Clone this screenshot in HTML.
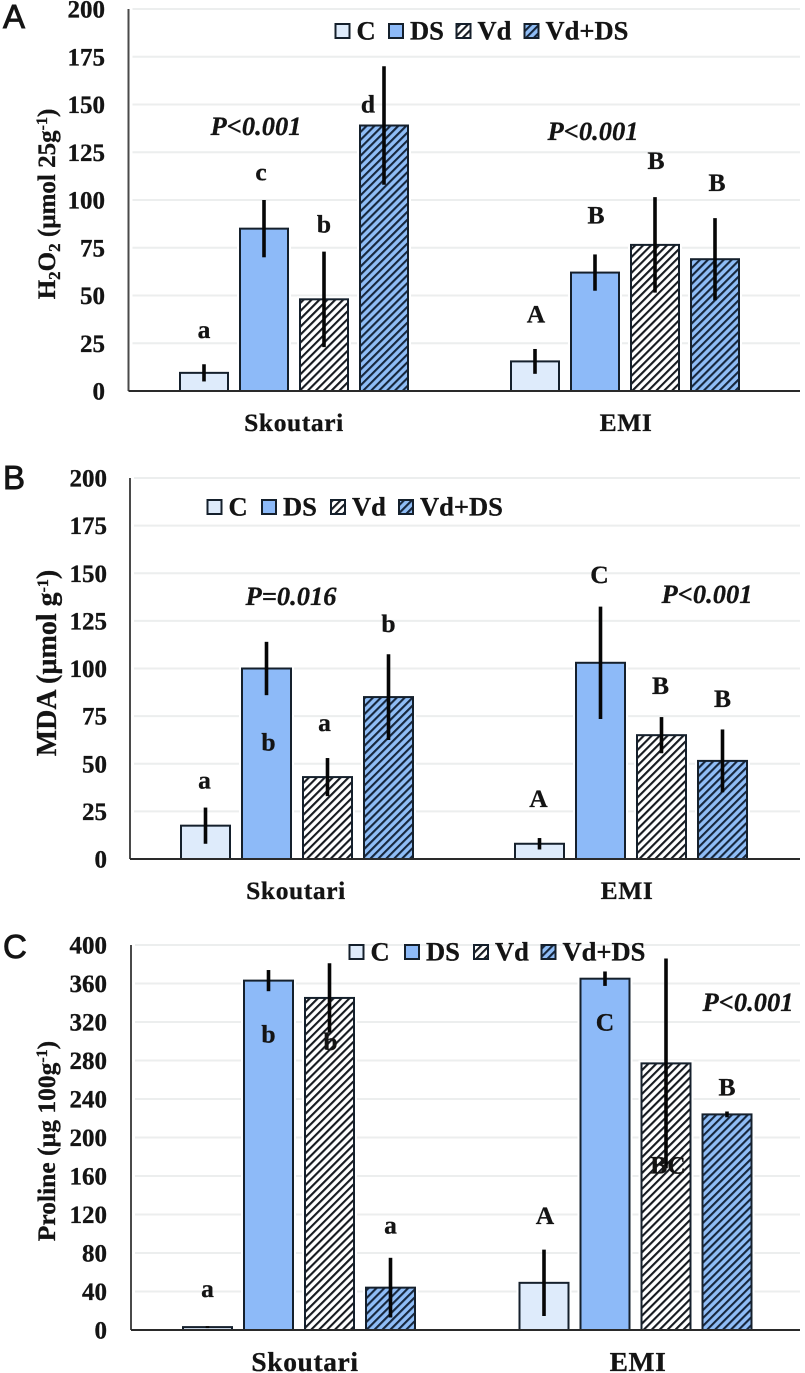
<!DOCTYPE html>
<html lang="en">
<head>
<meta charset="utf-8">
<title>H2O2, MDA and Proline charts</title>
<style>
html,body{margin:0;padding:0;background:#fff;}
svg{display:block;}
text{font-family:"Liberation Serif",serif;font-weight:bold;fill:#141414;stroke:#141414;stroke-width:.3;}
</style>
</head>
<body>
<svg id="figure" xmlns="http://www.w3.org/2000/svg" width="805" height="1373" viewBox="0 0 805 1373">
<defs>
<pattern id="hatch-white" patternUnits="userSpaceOnUse" width="5.6" height="5.6" patternTransform="rotate(45)">
<rect width="5.6" height="5.6" fill="#ffffff"/><rect width="2.1" height="5.6" fill="#161a20"/>
</pattern>
<pattern id="hatch-blue" patternUnits="userSpaceOnUse" width="5.6" height="5.6" patternTransform="rotate(45)">
<rect width="5.6" height="5.6" fill="#8fbdf6"/><rect width="2.1" height="5.6" fill="#16263c"/>
</pattern>
</defs>
</svg>
<script>
// Chart data
const treatments = ['C', 'DS', 'Vd', 'Vd+DS'];
const cultivars = ['Skoutari', 'EMI'];

const ticksA = [0, 25, 50, 75, 100, 125, 150, 175, 200];
const valuesA = [9.5, 85, 48, 139, 15.5, 62, 76.5, 69];
const errorsA = [4.5, 15, 25, 31, 6.5, 9.5, 25, 21.5];
const lettersA = ['a', 'c', 'b', 'd', 'A', 'B', 'B', 'B'];

const ticksB = [0, 25, 50, 75, 100, 125, 150, 175, 200];
const valuesB = [17.5, 100, 43, 85, 8, 103, 65, 51.5];
const errorsB = [9.5, 14, 10, 22.5, 3, 29.5, 9.5, 16.5];
const lettersB = ['a', 'b', 'a', 'b', 'A', 'C', 'B', 'B'];

const ticksC = [0, 40, 80, 120, 160, 200, 240, 280, 320, 360, 400];
const valuesC = [3, 363, 345, 44, 49, 365, 277, 224];
const errorsC = [1, 11, 36, 31, 34.5, 7.5, 109, 3];
const lettersC = ['a', 'b', 'b', 'a', 'A', 'C', 'BC', 'B'];

const SVG_NS = 'http://www.w3.org/2000/svg';
const svg = document.getElementById('figure');

function make(tag, attrs, parent) {
  const node = document.createElementNS(SVG_NS, tag);
  for (const key in attrs) node.setAttribute(key, attrs[key]);
  parent.appendChild(node);
  return node;
}

function barFill(i) {
  return ['#deebfb', '#8dbaf8', 'url(#hatch-white)', 'url(#hatch-blue)'][i];
}

function drawPanel(p) {
  const group = make('g', {}, svg);
  
  

  const yScale = v => p.y0 - (v / p.max) * (p.y0 - p.yTop);
  const xScale = (g, i) => p.groupStart[g] + i * p.step;

  const tag = make('text', {x: 3, y: p.tagY, 'font-size': 33}, group);
  tag.setAttribute('style', 'font-family:"Liberation Sans",sans-serif;font-weight:normal;stroke:#141414;stroke-width:.9');
  tag.textContent = p.id;
  
  

  p.ticks.forEach(t => {
    if (t > 0) {
      const grid = make('line', {x1: p.axisX + 4, x2: 800, y1: yScale(t), y2: yScale(t), stroke: '#eceeee', 'stroke-width': 2}, group);
      
      
    }
    const label = make('text', {x: p.tickX, y: yScale(t) + 8.5, 'font-size': 25, 'text-anchor': 'end'}, group);
    label.textContent = t;
    
    
  });

  const yAxis = make('line', {x1: p.axisX, x2: p.axisX, y1: p.yTop, y2: p.y0, stroke: '#4a4a4a', 'stroke-width': 2}, group);
  
  

  p.values.forEach((v, n) => {
    const g = Math.floor(n / 4), i = n % 4;
    const cx = xScale(g, i), top = yScale(v), w = p.barWidth;

    const halo = make('rect', {x: cx - w / 2 - 3, y: top - 3, width: w + 6, height: p.y0 - top + 3, fill: '#ffffff'}, group);
    
    

    const bar = make('rect', {x: cx - w / 2, y: top, width: w, height: p.y0 - top, fill: barFill(i), stroke: '#15202c', 'stroke-width': 2}, group);
    
    

    const err = make('line', {x1: cx, x2: cx, y1: yScale(v + p.errors[n]), y2: yScale(Math.max(v - p.errors[n], 0)), stroke: '#060606', 'stroke-width': 3.6}, group);
    
    

    const letter = make('text', {x: cx + p.letterDx[n], y: yScale(v) + p.letterDy[n] + 7, 'font-size': 25.5, 'text-anchor': 'middle'}, group);
    letter.textContent = p.letters[n];
    
    
  });

  const base = make('line', {x1: p.axisX, x2: 800, y1: p.y0, y2: p.y0, stroke: '#2a2a2a', 'stroke-width': 2}, group);
  
  

  cultivars.forEach((name, g) => {
    const label = make('text', {x: p.catX[g], y: p.catY, 'font-size': p.catSize, 'text-anchor': 'middle', 'letter-spacing': '.6'}, group);
    label.textContent = name;
    
    
  });

  const title = make('text', {transform: 'translate(' + p.titleX + ' ' + p.titleY + ') rotate(-90)', 'font-size': p.titleSize, 'text-anchor': 'middle'}, group);
  title.innerHTML = p.title;
  
  

  p.pvalues.forEach(pv => {
    const t = make('text', {x: pv.x, y: pv.y, 'font-size': 26.5, 'text-anchor': 'middle', 'font-style': 'italic'}, group);
    t.textContent = pv.text;
    
    
  });

  const legend = make('g', {}, group);
  
  
  treatments.forEach((name, i) => {
    const entry = make('g', {}, legend);
    
    
    const swatch = make('rect', {x: p.legendX[i], y: p.legendY - 7, width: 14, height: 14, fill: barFill(i), stroke: '#15202c', 'stroke-width': 2}, entry);
    
    
    const label = make('text', {x: p.legendX[i] + 21, y: p.legendY + 8.5, 'font-size': 26.5}, entry);
    label.textContent = name;
    
    
  });
}

const subStyle = 'font-size="17" dy="5"';
const supStyle = 'font-size="16" dy="-8"';

drawPanel({
  id: 'A', tagY: 28, axisX: 128.5, y0: 391, yTop: 9, max: 200, tickX: 105,
  groupStart: [204, 535], step: 60, barWidth: 48,
  ticks: ticksA, values: valuesA, errors: errorsA, letters: lettersA,
  letterDx: [0, -3, 0, -16, 1, 1, 1, 2],
  letterDy: [-42, -55, -74, -20, -46, -56, -83, -75],
  catX: [294, 626], catY: 431, catSize: 25.5, titleX: 55, titleY: 204, titleSize: 25,
  title: 'H<tspan ' + subStyle + '>2</tspan><tspan dy="-5">O</tspan><tspan ' + subStyle + '>2</tspan><tspan dy="-5"> (µmol 25g</tspan><tspan ' + supStyle + '>-1</tspan><tspan dy="8">)</tspan>',
  pvalues: [{text: 'P<0.001', x: 256, y: 135}, {text: 'P<0.001', x: 593, y: 140}],
  legendX: [335.5, 389, 456.5, 524.5], legendY: 31
});

drawPanel({
  id: 'B', tagY: 489, axisX: 130, y0: 859, yTop: 478, max: 200, tickX: 107,
  groupStart: [205.5, 539.5], step: 61, barWidth: 49,
  ticks: ticksB, values: valuesB, errors: errorsB, letters: lettersB,
  letterDx: [-1, 2, -3, 0, -1, -1, -1, 0],
  letterDy: [-44, 75, -53, -72, -44, -87, -48, -61],
  catX: [296, 627], catY: 899, catSize: 25.5, titleX: 56, titleY: 663, titleSize: 28,
  title: 'MDA (µmol g<tspan ' + supStyle + '>-1</tspan><tspan dy="8">)</tspan>',
  pvalues: [{text: 'P=0.016', x: 291, y: 605}, {text: 'P<0.001', x: 707, y: 603}],
  legendX: [207.5, 262, 331, 399], legendY: 507
});

drawPanel({
  id: 'C', tagY: 958, axisX: 131, y0: 1330, yTop: 945, max: 400, tickX: 107,
  groupStart: [207.5, 544], step: 61, barWidth: 49,
  ticks: ticksC, values: valuesC, errors: errorsC, letters: lettersC,
  letterDx: [0, 0, 1, 0, 1, 0, 2, 0],
  letterDy: [-37, 55, 45, -61, -66, 45, 103, -26],
  catX: [305, 638], catY: 1371, catSize: 27.5, titleX: 55, titleY: 1141, titleSize: 25.5,
  title: 'Proline (µg 100g<tspan ' + supStyle + '>-1</tspan><tspan dy="8">)</tspan>',
  pvalues: [{text: 'P<0.001', x: 748, y: 1011}],
  legendX: [349.5, 405, 474, 541.5], legendY: 952
});
</script>
</body>
</html>
